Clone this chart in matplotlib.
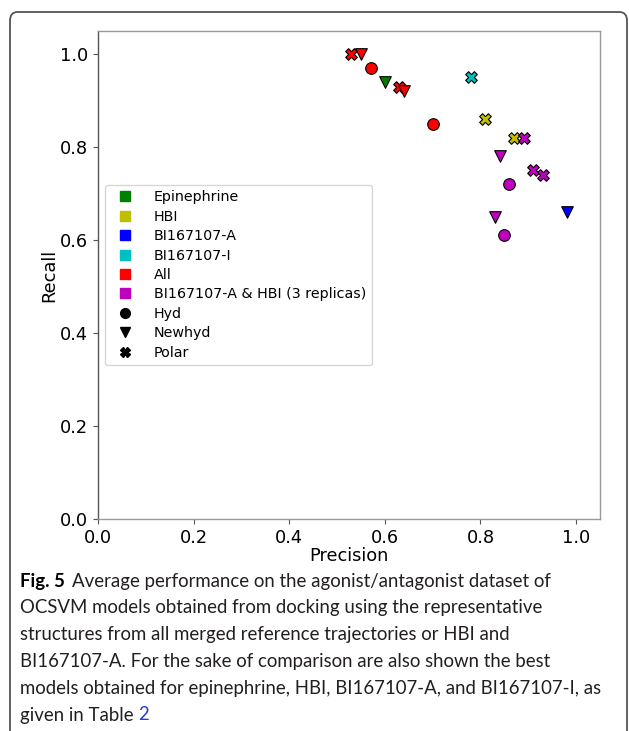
import matplotlib
matplotlib.use("Agg")
import matplotlib.pyplot as plt
from matplotlib.patches import FancyBboxPatch
from matplotlib.lines import Line2D

# ---- data ----
precision = [0.53, 0.55, 0.57, 0.60, 0.63, 0.64, 0.70, 0.78, 0.81, 0.87, 0.89, 0.84, 0.91, 0.93, 0.86, 0.98, 0.83, 0.85]
recall    = [1.00, 1.00, 0.97, 0.94, 0.93, 0.92, 0.85, 0.95, 0.86, 0.82, 0.82, 0.78, 0.75, 0.74, 0.72, 0.66, 0.65, 0.61]
groups    = ["All", "All", "All", "Epinephrine", "All", "All", "All", "BI167107-I", "HBI", "HBI",
             "BI167107-A & HBI (3 replicas)", "BI167107-A & HBI (3 replicas)", "BI167107-A & HBI (3 replicas)",
             "BI167107-A & HBI (3 replicas)", "BI167107-A & HBI (3 replicas)", "BI167107-A",
             "BI167107-A & HBI (3 replicas)", "BI167107-A & HBI (3 replicas)"]
methods   = ["Polar", "Newhyd", "Hyd", "Newhyd", "Polar", "Newhyd", "Hyd", "Polar", "Polar", "Polar",
             "Polar", "Newhyd", "Polar", "Polar", "Hyd", "Newhyd", "Newhyd", "Hyd"]

group_names = ["Epinephrine", "HBI", "BI167107-A", "BI167107-I", "All", "BI167107-A & HBI (3 replicas)"]
group_colors = ["g", "y", "b", "c", "r", "m"]
method_names = ["Hyd", "Newhyd", "Polar"]
method_markers = ["o", "v", "X"]

x_ticks = [0.0, 0.2, 0.4, 0.6, 0.8, 1.0]
y_ticks = [0.0, 0.2, 0.4, 0.6, 0.8, 1.0]

caption_lines = [
    "Average performance on the agonist/antagonist dataset of",
    "OCSVM models obtained from docking using the representative",
    "structures from all merged reference trajectories or HBI and",
    "BI167107-A. For the sake of comparison are also shown the best",
    "models obtained for epinephrine, HBI, BI167107-A, and BI167107-I, as",
    "given in Table ",
]

W, H = 629, 731
fig = plt.figure(figsize=(W / 100, H / 100), dpi=100)

# rounded frame of the figure box
frame = FancyBboxPatch((10 / W, -0.2), (617 / W), 1.2 - 12 / H + 0.0,
                       boxstyle="round,pad=0,rounding_size=0.012",
                       transform=fig.transFigure, fill=False,
                       edgecolor="#555555", linewidth=1.3)
fig.patches.append(frame)

ax = fig.add_axes([98 / W, 1 - 519 / H, 502 / W, (519 - 31) / H])

cmap = dict(zip(group_names, group_colors))
mmap = dict(zip(method_names, method_markers))
for x, y, g, m in zip(precision, recall, groups, methods):
    ax.scatter(x, y, c=cmap[g], marker=mmap[m], s=70, edgecolors="black", linewidths=0.8, zorder=3)

ax.set_xlim(0, 1.05)
ax.set_ylim(0, 1.05)
ax.set_xticks(x_ticks)
ax.set_yticks(y_ticks)
ax.tick_params(labelsize=12.8, length=3.5, color="#555555")
ax.set_xlabel("Precision", fontsize=12.8, labelpad=0)
ax.set_ylabel("Recall", fontsize=12.8, labelpad=1)
for s in ax.spines.values():
    s.set_color("#999999")
    s.set_linewidth(1.0)
ax.spines["left"].set_color("#555555")

handles = [Line2D([], [], linestyle="none", marker="s", color=c, markersize=7) for c in group_colors]
handles += [Line2D([], [], linestyle="none", marker=mk, color="black", markersize=7) for mk in method_markers]
labels = group_names + method_names
ax.legend(handles, labels, loc="center left", fontsize=10.3, frameon=True, handletextpad=1.0,
          labelspacing=0.38, borderaxespad=0.5)

# caption
cap_font = "Lato"
fs = 13.4
x0 = 20 / W
y_first = 1 - 581 / H
dy = 26.8 / H
fig.canvas.draw()
r = fig.canvas.get_renderer()
t = fig.text(x0, y_first, "Fig. 5", fontsize=fs, fontweight="bold", family=cap_font, va="center")
bb = t.get_window_extent(r)
fig.text(bb.x1 / W + 7 / W, y_first, caption_lines[0], fontsize=fs, family=cap_font, va="center", color="#231f20")
for i, line in enumerate(caption_lines[1:], start=1):
    tt = fig.text(x0, y_first - i * dy, line, fontsize=fs, family=cap_font, va="center", color="#231f20")
bb2 = tt.get_window_extent(r)
fig.text(bb2.x1 / W, y_first - 5 * dy, "2", fontsize=fs, family=cap_font, va="center", color="#2a3cd6")

fig.savefig("out.png", dpi=100)
